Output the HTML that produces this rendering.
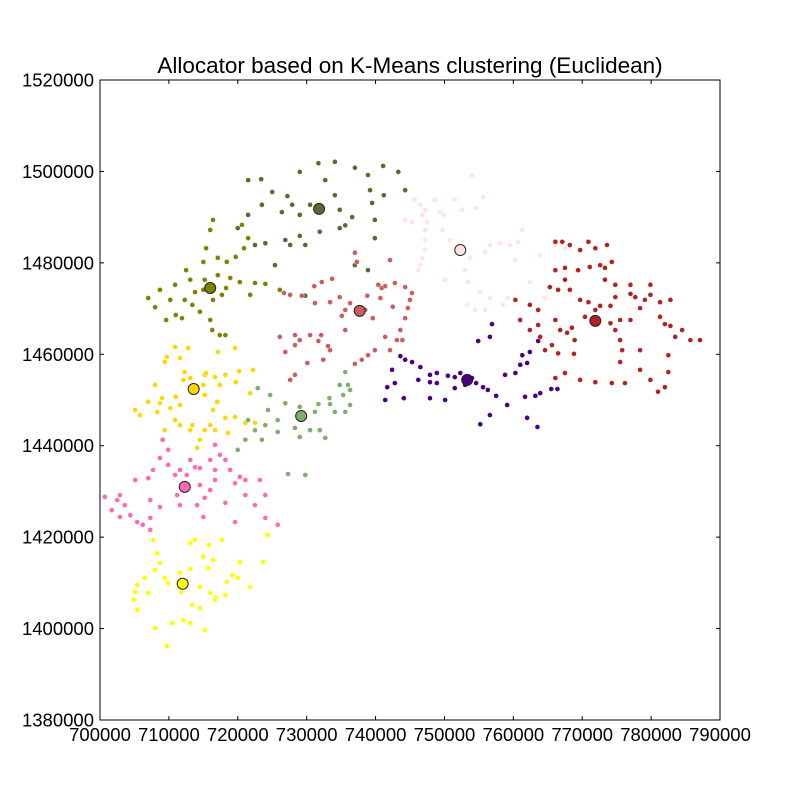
<!DOCTYPE html>
<html><head><meta charset="utf-8"><style>
body{margin:0;background:#fff;}
svg text{font-family:"Liberation Sans",sans-serif;}
</style></head><body>
<svg id="chart" width="800" height="800" viewBox="0 0 800 800" xmlns="http://www.w3.org/2000/svg">
<rect x="0" y="0" width="800" height="800" fill="#fff"/>
<text x="410" y="73" font-size="22.5" text-anchor="middle">Allocator based on K-Means clustering (Euclidean)</text>
<g id="marks"></g>
<rect x="100" y="80" width="620" height="640" fill="none" stroke="#000" stroke-width="1"/>
<g id="axes"></g>
</svg>
<script>
// values in thousands
const xTicks = [700,710,720,730,740,750,760,770,780,790];
const yTicks = [1380,1400,1420,1440,1460,1480,1500,1520];
const clusterNames = ['darkolive','olive','gold','sage','hotpink','yellow','indianred','mistyrose','indigo','firebrick'];
const clusterColors = ['#556b2f','#808000','#ffd700','#7daf6b','#ff69b4','#ffff00','#cd5c5c','#ffe4e1','#4b0082','#b22222'];
const centroidX = [731.8,716.0,713.6,729.2,712.3,712.0,737.7,752.3,753.3,771.9];
const centroidY = [1491.8,1474.5,1452.4,1446.5,1431.0,1409.8,1469.5,1482.8,1454.4,1467.3];
const pts0 = [[723.4,1498.3],[725.0,1495.5],[727.2,1494.6],[729.0,1499.9],[731.7,1501.8],[734.1,1502.1],[732.7,1498.1],[734.1,1494.8],[734.8,1491.6],[737.0,1500.8],[738.9,1499.2],[741.1,1501.2],[743.3,1499.9],[739.2,1495.9],[739.5,1493.1],[739.9,1489.4],[739.9,1485.4],[736.6,1490.0],[734.8,1487.6],[731.9,1486.8],[729.0,1485.9],[726.9,1485.0],[724.0,1484.3],[722.5,1483.9],[723.5,1492.7],[726.4,1491.1],[727.9,1492.7],[729.0,1490.5],[721.5,1490.5],[720.0,1487.6],[727.6,1483.9],[729.8,1483.9],[725.4,1479.5],[729.8,1472.8],[737.0,1479.5],[738.9,1478.4],[741.2,1494.8],[744.3,1495.9],[735.6,1488.2],[730.5,1492.7],[721.5,1498.1]];
const pts1 = [[707.0,1472.3],[708.0,1470.3],[709.6,1467.5],[711.0,1468.6],[712.3,1471.9],[713.8,1473.6],[715.0,1474.1],[715.2,1476.3],[716.4,1471.9],[716.0,1467.5],[716.3,1465.3],[717.4,1464.2],[718.2,1464.2],[708.7,1474.1],[710.9,1475.2],[713.1,1476.3],[717.1,1477.3],[718.9,1476.7],[720.3,1475.8],[722.5,1475.6],[724.0,1475.4],[726.1,1474.1],[717.7,1473.0],[721.8,1473.0],[715.0,1480.2],[715.4,1483.2],[716.0,1487.2],[716.4,1489.4],[717.1,1481.1],[718.4,1480.2],[719.7,1481.3],[720.9,1483.2],[721.5,1485.4],[720.6,1488.3],[712.5,1478.4],[713.4,1470.8],[714.5,1469.3],[718.3,1474.5],[710.2,1471.9],[711.9,1467.9]];
const pts2 = [[709.7,1459.4],[710.9,1461.6],[712.8,1461.4],[711.6,1459.2],[709.4,1458.3],[712.3,1456.1],[712.1,1454.4],[711.0,1450.7],[711.6,1448.9],[713.1,1454.8],[715.2,1455.5],[716.7,1455.0],[718.2,1455.5],[720.2,1456.3],[722.2,1456.6],[719.6,1461.4],[715.0,1453.3],[715.2,1451.1],[717.4,1453.3],[719.7,1453.9],[721.8,1451.5],[708.0,1453.3],[707.0,1449.6],[708.3,1447.4],[708.7,1449.3],[710.2,1448.2],[710.9,1445.6],[711.6,1444.5],[713.1,1443.4],[715.2,1443.4],[716.7,1443.4],[718.6,1442.8],[716.0,1444.5],[716.4,1447.8],[717.0,1449.6],[718.2,1446.1],[719.6,1446.3],[721.1,1445.0],[722.5,1445.0],[714.5,1441.3],[714.1,1439.5],[713.4,1444.5],[709.0,1450.4],[705.1,1447.8],[705.8,1446.7],[717.1,1460.5],[715.4,1455.9],[709.1,1441.3],[709.4,1443.4]];
const pts3 = [[722.9,1452.6],[724.7,1451.1],[726.9,1449.3],[729.0,1448.5],[731.2,1447.4],[734.1,1447.4],[735.6,1447.4],[736.3,1448.9],[735.3,1451.1],[734.8,1453.3],[735.6,1456.1],[733.4,1449.1],[731.7,1449.1],[724.0,1444.5],[724.4,1447.8],[721.5,1445.6],[721.1,1441.3],[720.0,1439.1],[722.5,1443.4],[725.8,1445.6],[728.3,1443.9],[729.0,1441.9],[730.5,1443.4],[731.9,1443.4],[732.7,1441.7],[727.3,1433.8],[729.8,1433.6],[723.5,1441.3],[725.8,1443.0],[736.0,1453.3],[733.3,1450.4],[736.3,1452.2]];
const pts4 = [[709.1,1441.3],[709.9,1439.1],[708.7,1437.3],[707.7,1434.7],[707.0,1432.9],[705.1,1432.5],[702.9,1429.2],[702.5,1428.1],[703.6,1427.0],[704.4,1424.8],[705.4,1423.3],[706.2,1422.7],[707.3,1421.6],[707.3,1424.2],[708.7,1426.6],[707.3,1428.1],[710.9,1433.6],[711.6,1434.7],[713.1,1436.9],[713.8,1435.3],[716.0,1436.9],[717.4,1438.0],[716.7,1434.7],[716.7,1432.5],[716.0,1430.3],[715.2,1428.6],[714.1,1427.0],[711.6,1427.0],[711.2,1429.2],[714.5,1431.4],[718.2,1436.9],[716.7,1440.2],[718.9,1434.7],[719.6,1431.8],[721.1,1429.2],[722.5,1427.0],[724.0,1429.2],[723.2,1432.5],[721.1,1432.5],[718.2,1427.5],[715.0,1424.4],[719.6,1423.3],[724.0,1424.2],[725.8,1422.7],[709.9,1435.8],[712.6,1433.6],[720.3,1433.2],[700.7,1428.8],[701.7,1425.9],[702.9,1424.4],[714.5,1435.1]];
const pts5 = [[707.7,1419.4],[708.3,1416.5],[708.7,1414.3],[708.0,1412.8],[709.4,1411.1],[709.9,1410.0],[706.5,1411.1],[705.4,1409.5],[705.1,1408.0],[704.9,1406.3],[705.4,1404.1],[707.0,1407.8],[713.1,1418.7],[713.8,1419.4],[715.8,1418.3],[717.7,1419.4],[715.0,1415.7],[715.7,1413.2],[713.1,1413.0],[711.6,1412.2],[711.8,1408.0],[714.5,1409.1],[716.0,1407.8],[716.8,1406.7],[718.2,1407.3],[718.4,1410.2],[719.2,1411.7],[720.3,1414.6],[720.0,1411.1],[721.8,1409.1],[713.4,1405.2],[714.5,1404.5],[716.7,1406.3],[715.2,1399.7],[710.5,1401.2],[712.1,1401.8],[713.1,1401.2],[709.7,1396.2],[708.0,1400.1],[716.4,1415.0],[724.3,1420.5],[723.7,1414.6]];
const pts6 = [[729.3,1472.8],[731.2,1471.2],[733.4,1471.4],[734.8,1472.5],[736.3,1471.2],[735.6,1469.7],[735.1,1468.4],[735.6,1465.3],[738.5,1469.7],[739.6,1467.9],[740.4,1475.2],[740.9,1474.5],[740.7,1472.3],[738.8,1472.8],[741.4,1474.9],[742.8,1475.6],[744.3,1474.7],[745.3,1473.4],[745.0,1471.9],[744.7,1470.1],[744.3,1467.9],[743.6,1465.3],[743.1,1463.1],[742.1,1460.9],[741.4,1463.8],[739.9,1460.9],[738.9,1459.8],[738.0,1458.8],[737.0,1457.9],[733.4,1460.9],[732.4,1458.8],[731.7,1462.9],[733.1,1461.8],[728.3,1462.0],[726.9,1460.5],[729.0,1463.1],[730.5,1464.2],[726.1,1463.8],[728.3,1464.2],[732.1,1464.2],[730.1,1458.1],[728.3,1455.5],[727.6,1454.4],[727.6,1473.0],[726.7,1473.4],[742.5,1470.4],[743.9,1463.1],[731.1,1474.9],[732.2,1475.8],[733.7,1476.5],[737.3,1480.2],[737.0,1482.2],[742.1,1480.6]];
const pts7 = [[745.7,1493.8],[746.5,1492.7],[747.2,1491.6],[746.8,1490.5],[747.5,1488.9],[747.2,1487.2],[747.2,1485.0],[747.2,1482.8],[746.8,1481.1],[746.5,1479.5],[746.2,1478.4],[745.3,1488.9],[744.3,1489.4],[748.6,1493.8],[749.4,1491.1],[749.9,1490.5],[751.5,1493.8],[752.6,1491.6],[754.5,1492.0],[753.0,1478.4],[753.4,1475.8],[753.7,1481.1],[755.2,1473.6],[756.6,1472.3],[753.3,1470.8],[755.9,1469.7],[754.5,1469.7],[756.6,1483.9],[758.1,1484.3],[759.5,1483.9],[760.7,1484.6],[761.3,1487.2],[760.3,1480.6],[755.9,1482.4],[766.1,1483.9],[767.5,1483.2],[763.9,1481.7],[762.4,1475.8],[764.6,1472.3],[759.2,1472.3],[758.5,1470.8],[749.7,1487.2],[750.8,1485.0],[750.1,1476.3],[754.0,1499.2],[755.6,1494.4]];
const pts8 = [[743.6,1459.6],[744.3,1458.8],[745.3,1458.3],[746.5,1457.2],[747.9,1455.5],[748.9,1455.9],[750.5,1455.3],[751.5,1455.0],[752.3,1455.9],[754.0,1454.8],[754.6,1453.7],[755.6,1452.8],[756.3,1452.2],[757.5,1450.9],[759.1,1448.9],[761.7,1450.7],[763.2,1450.9],[763.9,1451.5],[758.8,1455.5],[760.3,1455.9],[761.0,1457.7],[762.0,1458.1],[761.3,1459.8],[762.4,1460.5],[763.6,1462.9],[756.6,1463.8],[754.9,1462.9],[742.4,1456.6],[742.8,1453.7],[741.7,1452.8],[741.4,1450.0],[744.1,1450.4],[747.9,1450.4],[748.9,1453.7],[747.9,1453.9],[751.5,1452.6],[753.0,1453.3],[756.6,1446.7],[755.2,1444.7],[746.2,1454.4],[750.1,1450.0],[756.9,1466.6],[762.0,1446.1],[763.5,1444.1],[765.5,1452.4],[766.4,1452.4]];
const pts9 = [[766.1,1484.6],[767.1,1484.6],[768.2,1483.9],[769.7,1482.8],[770.9,1484.6],[771.9,1483.2],[773.6,1483.9],[772.6,1479.5],[773.3,1478.9],[774.3,1480.2],[771.1,1479.1],[769.4,1478.4],[767.5,1478.9],[766.1,1478.4],[765.3,1474.7],[766.5,1474.1],[767.5,1476.3],[768.2,1474.1],[769.7,1471.9],[770.9,1471.4],[772.6,1470.6],[774.1,1470.6],[774.8,1472.5],[777.0,1475.2],[777.0,1473.2],[777.7,1472.5],[778.4,1470.1],[779.1,1471.9],[779.9,1473.0],[781.3,1468.2],[782.0,1466.6],[782.8,1466.2],[783.5,1463.8],[784.5,1465.3],[785.7,1463.1],[774.1,1466.8],[774.8,1465.3],[775.5,1463.1],[775.8,1460.9],[775.5,1467.5],[777.0,1467.5],[771.9,1469.7],[770.4,1468.2],[768.5,1465.8],[767.8,1464.7],[768.9,1463.1],[766.8,1465.3],[766.1,1467.5],[762.4,1470.8],[763.6,1469.7],[763.6,1466.4],[762.4,1465.3],[763.9,1463.8],[764.6,1460.9],[765.6,1462.0],[761.0,1467.5],[760.3,1471.9],[766.5,1460.2],[769.7,1454.4],[771.9,1453.9],[774.3,1453.7],[776.2,1453.7],[779.9,1454.4],[781.0,1451.8],[782.0,1452.8],[782.5,1456.1],[782.5,1459.8],[778.4,1460.9],[775.5,1458.3],[778.4,1456.6],[766.1,1454.8],[767.5,1455.9],[768.8,1460.1],[774.8,1475.2],[773.3,1476.3],[781.3,1471.4],[782.8,1471.9],[779.9,1475.2],[787.1,1463.1]];
const clusterPoints = [pts0,pts1,pts2,pts3,pts4,pts5,pts6,pts7,pts8,pts9];

const X0=100,X1=720,Y0=720,Y1=80;
const xMin=700,xMax=790,yMin=1380,yMax=1520;
function sx(v){return X0+(v-xMin)/(xMax-xMin)*(X1-X0);}
function sy(v){return Y0-(v-yMin)/(yMax-yMin)*(Y0-Y1);}
const NS='http://www.w3.org/2000/svg';
const marks=document.getElementById('marks');
const axes=document.getElementById('axes');
clusterPoints.forEach((pts,ci)=>{
  const g=document.createElementNS(NS,'g');
  
  
  pts.forEach(p=>{
    const c=document.createElementNS(NS,'circle');
    
    
    c.setAttribute('cx',sx(p[0]));c.setAttribute('cy',sy(p[1]));c.setAttribute('r',2.5);
    c.setAttribute('fill',clusterColors[ci]);c.setAttribute('stroke','#fff');c.setAttribute('stroke-width','0.4');
    g.appendChild(c);
  });
  marks.appendChild(g);
});
centroidX.forEach((cx,i)=>{
  const c=document.createElementNS(NS,'circle');
  
  
  c.setAttribute('cx',sx(cx));c.setAttribute('cy',sy(centroidY[i]));c.setAttribute('r',5.5);
  c.setAttribute('fill',clusterColors[i]);c.setAttribute('stroke','#222');c.setAttribute('stroke-width','1');
  marks.appendChild(c);
});
xTicks.forEach(t=>{
  const x=sx(t);
  [[Y0,Y0-4],[Y1,Y1+4]].forEach(s=>{
    const l=document.createElementNS(NS,'line');
    
    
    l.setAttribute('x1',x);l.setAttribute('x2',x);l.setAttribute('y1',s[0]);l.setAttribute('y2',s[1]);l.setAttribute('stroke','#000');
    axes.appendChild(l);
  });
  const tx=document.createElementNS(NS,'text');
  
  
  tx.setAttribute('x',x);tx.setAttribute('y',741);tx.setAttribute('font-size','18.5');tx.setAttribute('text-anchor','middle');
  tx.textContent=String(t*1000);
  axes.appendChild(tx);
});
yTicks.forEach(t=>{
  const y=sy(t);
  [[X0,X0+4],[X1,X1-4]].forEach(s=>{
    const l=document.createElementNS(NS,'line');
    
    
    l.setAttribute('x1',s[0]);l.setAttribute('x2',s[1]);l.setAttribute('y1',y);l.setAttribute('y2',y);l.setAttribute('stroke','#000');
    axes.appendChild(l);
  });
  const tx=document.createElementNS(NS,'text');
  
  
  tx.setAttribute('x',94);tx.setAttribute('y',y+6.5);tx.setAttribute('font-size','18.5');tx.setAttribute('text-anchor','end');
  tx.textContent=String(t*1000);
  axes.appendChild(tx);
});
</script>
</body></html>
